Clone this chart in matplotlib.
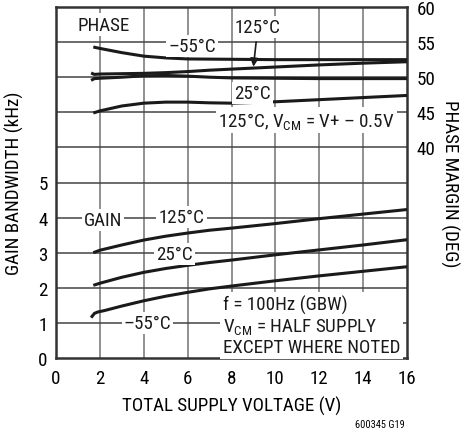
import matplotlib
matplotlib.use("Agg")
import matplotlib.pyplot as plt
from matplotlib import font_manager as fm

names = sorted({f.name for f in fm.fontManager.ttflist})
cands = [n for n in ['Liberation Sans Narrow', 'Roboto Condensed', 'Open Sans Condensed', 'Noto Sans Condensed', 'Roboto', 'Liberation Sans'] if n in names]
main_font = cands[0] if cands else 'DejaVu Sans'

plt.rcParams['font.family'] = [main_font, 'DejaVu Sans']
plt.rcParams['mathtext.fontset'] = 'custom'
plt.rcParams['mathtext.rm'] = main_font
plt.rcParams['mathtext.it'] = main_font

# ---- data ----
x_ticks = [0, 2, 4, 6, 8, 10, 12, 14, 16]
gain_ticks = [0, 1, 2, 3, 4, 5]
phase_ticks = [40, 45, 50, 55, 60]

gain_125_x = [1.7, 2, 3, 4, 5, 6, 7, 8, 10, 12, 14, 16]
gain_125_y = [3.0, 3.07, 3.22, 3.36, 3.47, 3.56, 3.64, 3.7, 3.83, 3.97, 4.1, 4.23]
gain_25_x = [1.7, 2, 3, 4, 5, 6, 7, 8, 10, 12, 14, 16]
gain_25_y = [2.07, 2.13, 2.3, 2.44, 2.55, 2.64, 2.72, 2.79, 2.94, 3.08, 3.22, 3.37]
gain_m55_x = [1.6, 1.75, 1.9, 2.2, 3, 4, 5, 6, 7, 8, 10, 12, 14, 16]
gain_m55_y = [1.15, 1.27, 1.31, 1.35, 1.48, 1.63, 1.76, 1.87, 1.97, 2.05, 2.2, 2.34, 2.47, 2.6]

ph_m55_x = [1.7, 2, 3, 4, 5, 6, 8, 10, 12, 14, 16]
ph_m55_y = [54.3, 54.1, 53.5, 53.0, 52.75, 52.6, 52.55, 52.5, 52.5, 52.5, 52.5]
ph_125_x = [1.6, 1.75, 2, 3, 4, 5, 6, 7, 8, 9, 10, 12, 14, 16]
ph_125_y = [50.6, 50.4, 50.45, 50.5, 50.55, 50.65, 50.8, 51.0, 51.15, 51.3, 51.45, 51.75, 52.0, 52.2]
ph_25_x = [1.6, 1.75, 2, 3, 4, 5, 6, 7, 8, 10, 12, 14, 16]
ph_25_y = [49.55, 49.8, 49.85, 50.0, 50.2, 50.25, 50.15, 50.0, 49.9, 49.85, 49.8, 49.8, 49.8]
ph_125v_x = [1.7, 2, 3, 4, 5, 6, 7, 8, 10, 12, 14, 16]
ph_125v_y = [44.9, 45.2, 45.9, 46.3, 46.45, 46.45, 46.35, 46.3, 46.5, 46.8, 47.1, 47.4]

fig = plt.figure(figsize=(4.66, 4.35), dpi=100)
ax = fig.add_axes([56/466, 1-359/435, (407-56)/466, (359-8)/435])
ax2 = ax.twinx()

ax.set_xlim(0, 16)
ax.set_ylim(0, 10)
ax2.set_ylim(10, 60)

for xv in x_ticks[1:-1]:
    ax.axvline(xv, color='#888888', lw=1.3, zorder=0)
for yv in range(1, 10):
    ax.axhline(yv, color='#444444', lw=1.1, zorder=0)

for s in ax.spines.values():
    s.set_color('#333333')
    s.set_linewidth(1.8)
for s in ax2.spines.values():
    s.set_visible(False)

fs = 13.7
ax.set_xticks(x_ticks)
ax.set_yticks(gain_ticks)
ax2.set_yticks(phase_ticks)
ax.tick_params(axis='both', length=0, labelsize=fs, pad=6)
ax2.tick_params(axis='y', length=0, labelsize=fs, pad=7)
ax.tick_params(axis='x', pad=8)

ax.set_xlabel('TOTAL SUPPLY VOLTAGE (V)', fontsize=fs, labelpad=6)
ax.set_ylabel('GAIN BANDWIDTH (kHz)', fontsize=fs, labelpad=10)
ax2.set_ylabel('PHASE MARGIN (DEG)', fontsize=fs, rotation=-90, labelpad=17)

lw = 2.2
for xs, ys in [(gain_125_x, gain_125_y), (gain_25_x, gain_25_y), (gain_m55_x, gain_m55_y)]:
    ax.plot(xs, ys, color='#1a1a1a', lw=lw, solid_capstyle='butt', zorder=3)
for xs, ys in [(ph_m55_x, ph_m55_y), (ph_125_x, ph_125_y), (ph_25_x, ph_25_y), (ph_125v_x, ph_125v_y)]:
    ax2.plot(xs, ys, color='#1a1a1a', lw=lw, solid_capstyle='butt', zorder=3)

bb = dict(facecolor='white', edgecolor='none', pad=1.5)
tk = dict(fontsize=fs, color='#1a1a1a', zorder=4, bbox=bb)

ax2.text(2.15, 57.5, 'PHASE', ha='center', va='center', **tk)
ax2.text(6.2, 54.5, '–55°C', ha='center', va='center', **tk)
ax2.annotate('125°C', xy=(9.0, 51.5), xytext=(9.2, 57.2), ha='center', va='center',
             fontsize=fs, color='#1a1a1a', zorder=4, bbox=bb,
             arrowprops=dict(arrowstyle='-|>', color='#1a1a1a', lw=1.2,
                             mutation_scale=12, shrinkA=3, shrinkB=0))
ax2.text(8.95, 47.8, '25°C', ha='center', va='center', **tk)
ax2.text(7.4, 43.9, '125°C, V$_{\\mathrm{CM}}$ = V+ – 0.5V', ha='left', va='center', **tk)

ax.text(2.15, 3.93, 'GAIN', ha='center', va='center', **tk)
ax.text(5.72, 4.02, '125°C', ha='center', va='center', **tk)
ax.text(5.42, 2.97, '25°C', ha='center', va='center', **tk)
ax.text(4.17, 1.0, '–55°C', ha='center', va='center', **tk)
ax.text(7.6, 0.92, 'f = 100Hz (GBW)\nV$_{\\mathrm{CM}}$ = HALF SUPPLY\nEXCEPT WHERE NOTED',
        ha='left', va='center', linespacing=1.15,
        fontsize=fs, color='#1a1a1a', zorder=4,
        bbox=dict(facecolor='white', edgecolor='none', pad=2))

fig.text(380/466, 1-425/435, '600345 G19', fontsize=7.5, ha='center', va='center')

fig.savefig('out.png', dpi=100)
